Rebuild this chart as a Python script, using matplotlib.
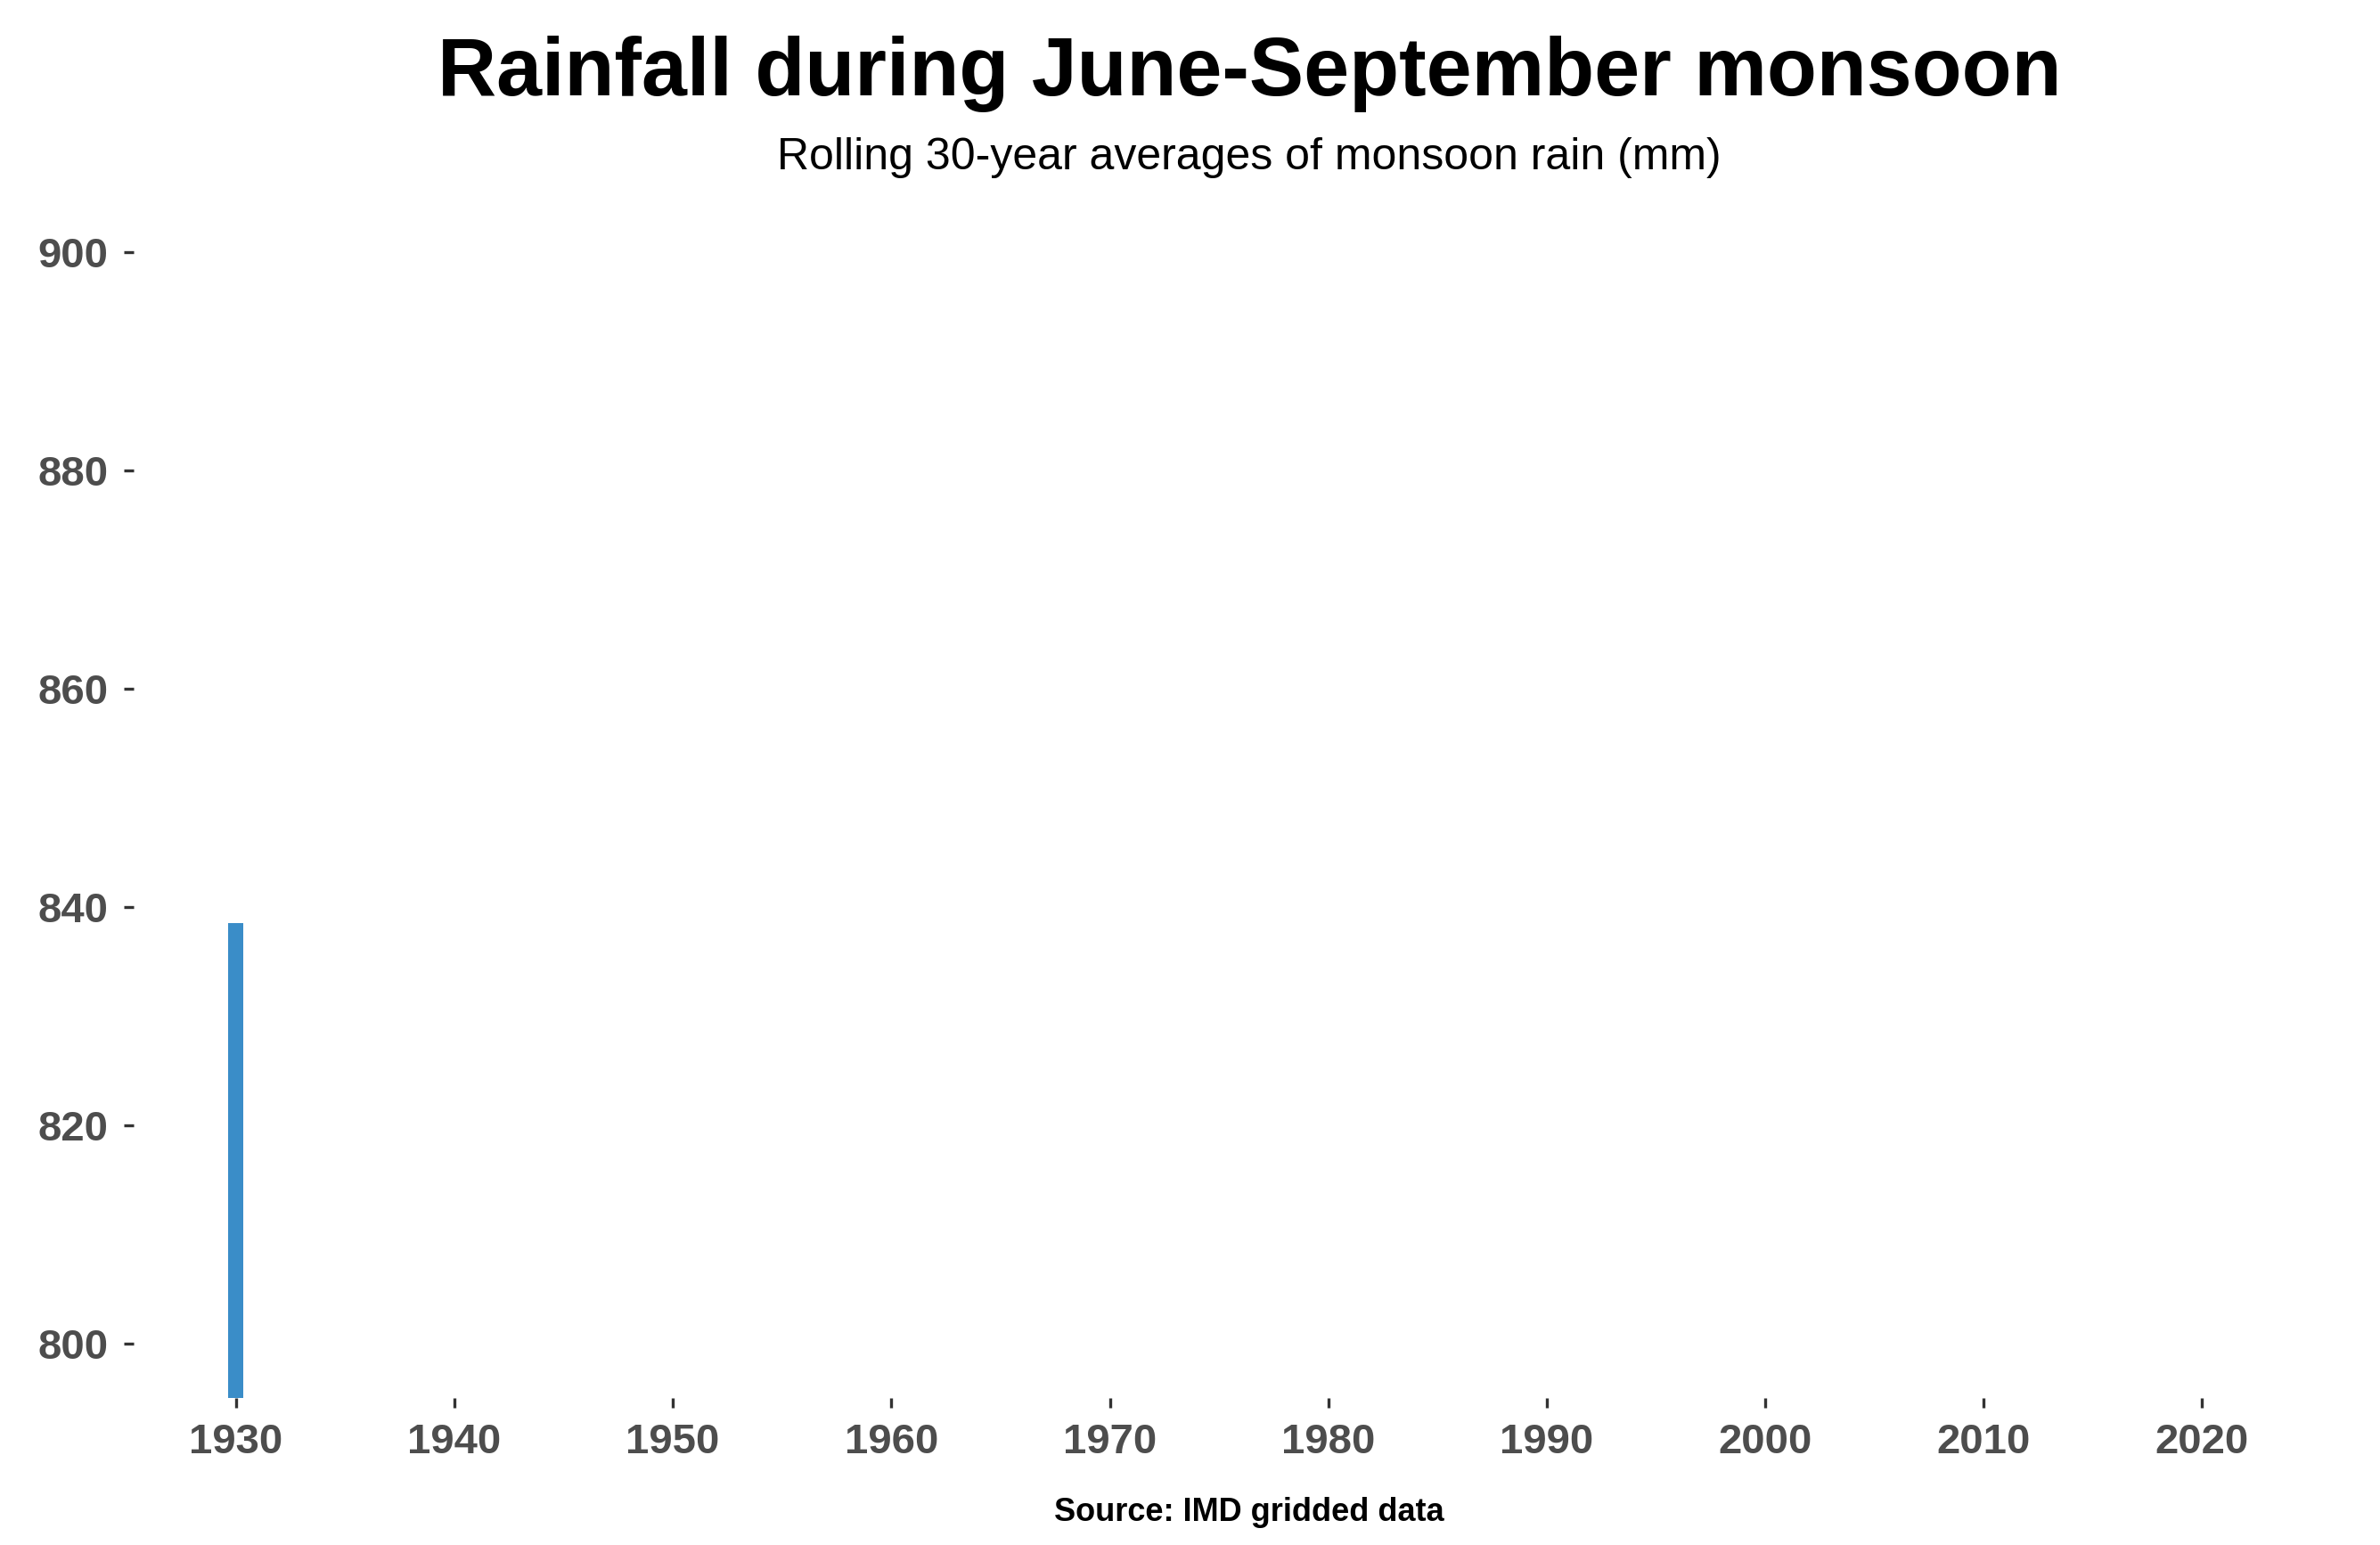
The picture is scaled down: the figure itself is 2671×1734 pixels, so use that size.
import matplotlib.pyplot as plt

years = [1930]
rain = [838.5]
xticks = [1930, 1940, 1950, 1960, 1970, 1980, 1990, 2000, 2010, 2020]
yticks = [800, 820, 840, 860, 880, 900]

plt.rcParams['font.family'] = 'Liberation Sans'
fig = plt.figure(figsize=(13.355, 8.67), dpi=200)
ax = fig.add_axes([0.056, 0.095, 0.906, 0.749])

base = 795
ax.bar(years, [r - base for r in rain], bottom=base, width=0.7, color='#3a8dc8')
ax.set_xlim(1925.3, 2024)
ax.set_ylim(base, 901)
ax.set_xticks(xticks)
ax.set_yticks(yticks)
for s in ax.spines.values():
    s.set_visible(False)
ax.tick_params(colors='#333333', labelcolor='#4d4d4d', length=4, width=1.2, labelsize=17, pad=6)
for lab in ax.get_xticklabels() + ax.get_yticklabels():
    lab.set_fontweight('bold')

fig.text(0.525, 0.952, 'Rainfall during June-September monsoon', ha='center', va='center',
         fontsize=33, fontweight='bold')
fig.text(0.525, 0.898, 'Rolling 30-year averages of monsoon rain (mm)', ha='center', va='center',
         fontsize=18)
fig.text(0.525, 0.021, 'Source: IMD gridded data', ha='center', va='center',
         fontsize=13, fontweight='bold')

fig.savefig('out.png', dpi=200, facecolor='white')
